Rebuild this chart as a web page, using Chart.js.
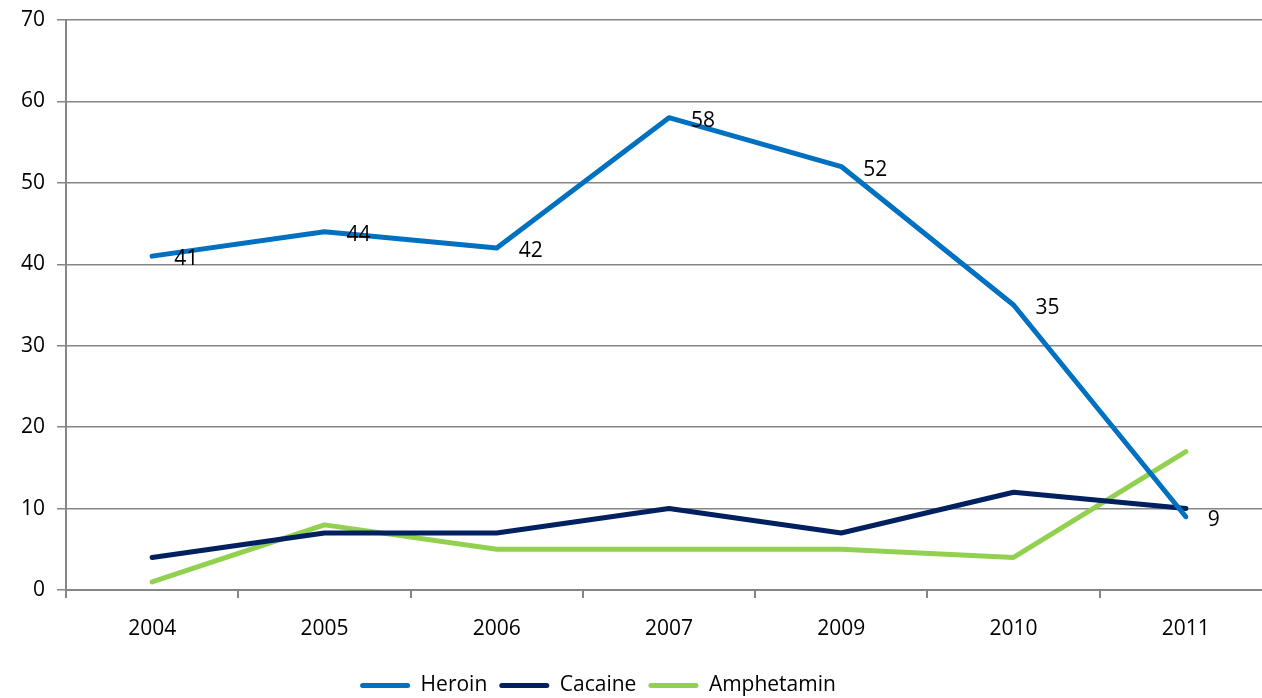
<!DOCTYPE html>
<html>
<head>
<meta charset="UTF-8">
<style>
  body { margin: 0; overflow: hidden; background: #fff; }
  #wrap { width: 1272px; height: 706px; }
</style>
</head>
<body>
<div id="wrap"><canvas id="chart"></canvas></div>
<script src="https://cdn.jsdelivr.net/npm/chart.js"></script>
<script>
  const years = ["2004", "2005", "2006", "2007", "2009", "2010", "2011"];
  const heroin = [41, 44, 42, 58, 52, 35, 9];
  const cacaine = [4, 7, 7, 10, 7, 12, 10];
  const amphetamin = [1, 8, 5, 5, 5, 4, 17];

  const font = "'Open Sans', 'Noto Sans', sans-serif";

  // value labels for the heroin line, right of each point
  const heroinLabels = {
    id: 'heroinLabels',
    afterDatasetsDraw(chart) {
      const ctx = chart.ctx;
      const meta = chart.getDatasetMeta(0);
      ctx.save();
      ctx.font = "21px " + font;
      ctx.fillStyle = "#000";
      ctx.textAlign = "left";
      ctx.textBaseline = "middle";
      meta.data.forEach((pt, i) => {
        ctx.fillText(heroin[i], pt.x + 22, pt.y + 3);
      });
      ctx.restore();
    }
  };

  // legend sits a bit left of canvas centre in the original
  const shiftLegend = {
    id: 'shiftLegend',
    afterLayout(chart) {
      chart.legend.left -= 38;
      chart.legend.right -= 38;
    }
  };

  new Chart(document.getElementById("chart"), {
    type: 'line',
    data: {
      labels: years,
      datasets: [
        { label: "Heroin", data: heroin, borderColor: "#0070C0", backgroundColor: "#0070C0" },
        { label: "Cacaine", data: cacaine, borderColor: "#002060", backgroundColor: "#002060" },
        { label: "Amphetamin", data: amphetamin, borderColor: "#92D050", backgroundColor: "#92D050" }
      ]
    },
    options: {
      responsive: true,
      maintainAspectRatio: false,
      animation: false,
      layout: { padding: { top: 20, right: 0, bottom: 0, left: 0 } },
      elements: {
        line: { borderWidth: 5, tension: 0, borderCapStyle: 'round', borderJoinStyle: 'round' },
        point: { radius: 0 }
      },
      scales: {
        x: {
          offset: true,
          grid: { offset: true, drawOnChartArea: false, color: "#868686", lineWidth: 2, tickLength: 8 },
          border: { color: "#868686", width: 2 },
          ticks: { color: "#000", font: { family: font, size: 21 }, padding: 18 },
          afterFit(scale) { scale.height = 73; }
        },
        y: {
          min: 0, max: 70,
          ticks: { stepSize: 10, color: "#000", font: { family: font, size: 21 }, padding: 12 },
          grid: { color: "#868686", lineWidth: 1.5, tickLength: 9 },
          border: { color: "#868686", width: 2 },
          afterFit(scale) {
            scale.width = 66;
            scale.paddingTop = 0;
            scale.paddingBottom = 0;
          }
        }
      },
      plugins: {
        legend: {
          position: 'bottom',
          labels: {
            boxWidth: 50, boxHeight: 5, color: "#000",
            useBorderRadius: true, borderRadius: 2.5,
            font: { family: font, size: 21 }, padding: 12,
            generateLabels(chart) {
              const items = Chart.defaults.plugins.legend.labels.generateLabels(chart);
              items.forEach(it => { it.lineWidth = 0; });
              return items;
            }
          }
        },
        tooltip: { enabled: false }
      }
    },
    plugins: [heroinLabels, shiftLegend]
  });
</script>
</body>
</html>
